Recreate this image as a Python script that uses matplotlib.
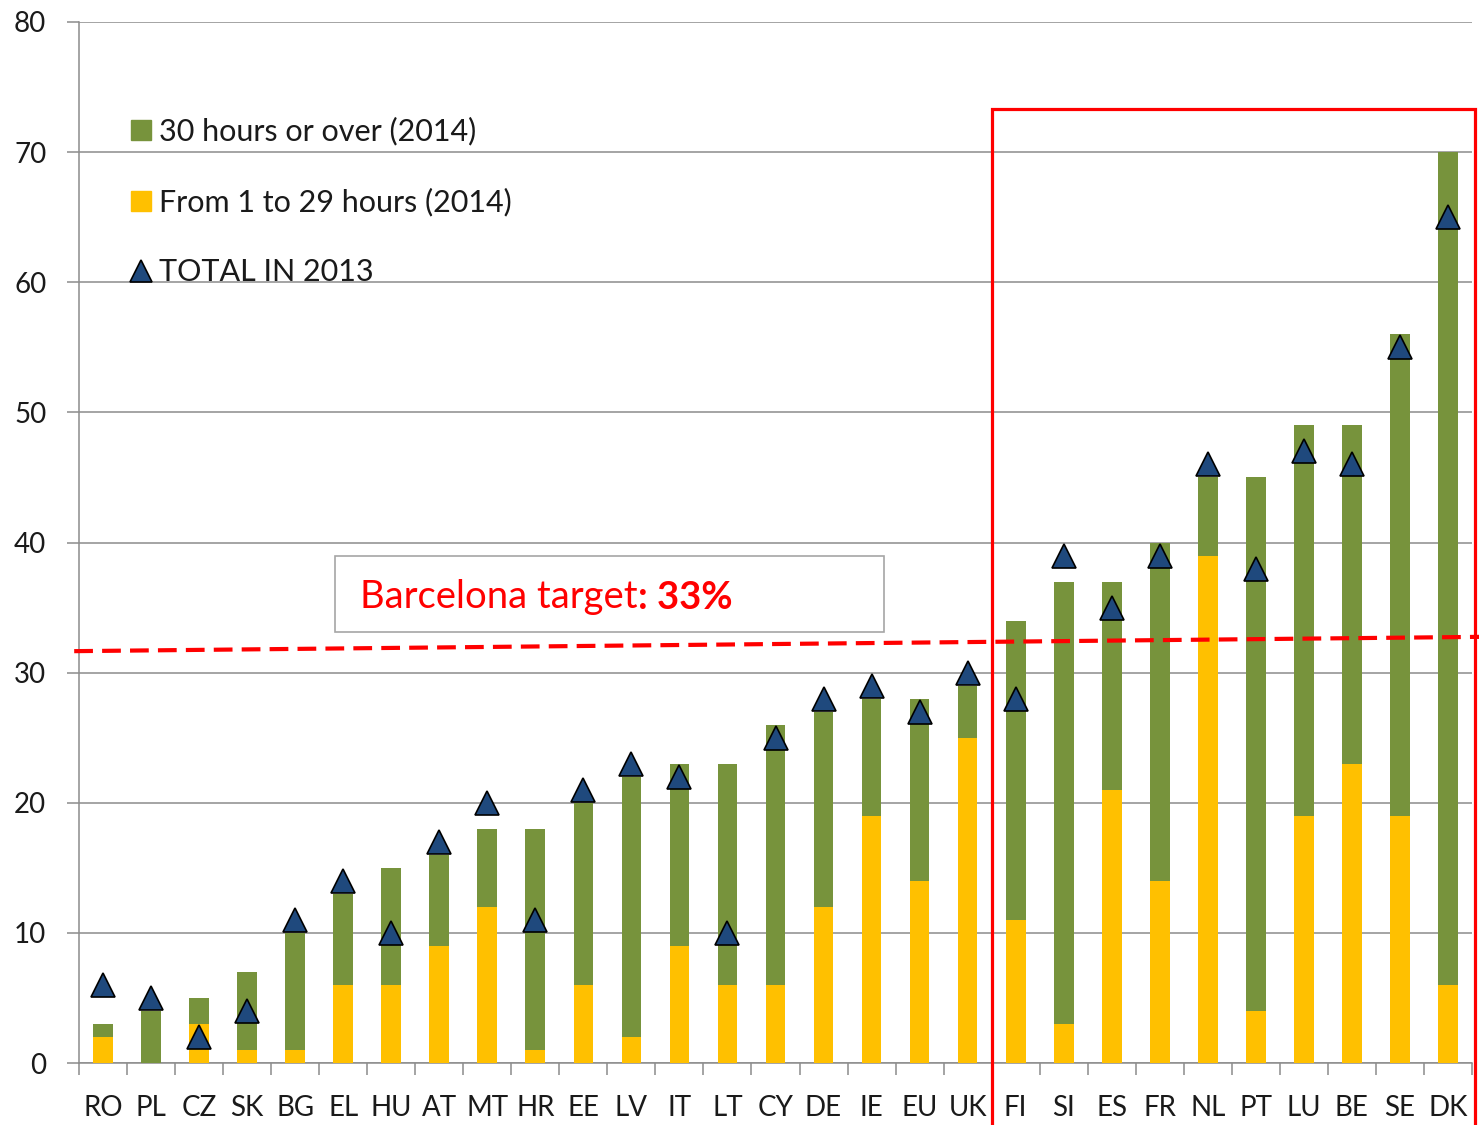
import matplotlib
matplotlib.use('Agg')
import matplotlib.pyplot as plt
from matplotlib.lines import Line2D
from matplotlib.patches import Rectangle
import numpy as np

plt.rcParams['font.family'] = ['Lato', 'DejaVu Sans']

countries = ['RO', 'PL', 'CZ', 'SK', 'BG', 'EL', 'HU', 'AT', 'MT', 'HR', 'EE', 'LV',
             'IT', 'LT', 'CY', 'DE', 'IE', 'EU', 'UK', 'FI', 'SI', 'ES', 'FR', 'NL',
             'PT', 'LU', 'BE', 'SE', 'DK']
part_time_2014 = [2, 0, 3, 1, 1, 6, 6, 9, 12, 1, 6, 2, 9, 6, 6, 12, 19, 14, 25,
                  11, 3, 21, 14, 39, 4, 19, 23, 19, 6]
full_time_2014 = [1, 4, 2, 6, 9, 7, 9, 7, 6, 17, 14, 20, 14, 17, 20, 15, 9, 14, 4,
                  23, 34, 16, 26, 6, 41, 30, 26, 37, 64]
total_2013 = [6, 5, 2, 4, 11, 14, 10, 17, 20, 11, 21, 23, 22, 10, 25, 28, 29, 27, 30,
              28, 39, 35, 39, 46, 38, 47, 46, 55, 65]
yticks = [0, 10, 20, 30, 40, 50, 60, 70, 80]
legend_labels = ['30 hours or over (2014)', 'From 1 to 29 hours (2014)', 'TOTAL IN 2013']
target_label = 'Barcelona target'
target_value = ': 33%'

GREEN = '#77933C'
YELLOW = '#FFC000'
NAVY = '#1F497D'
GRID = '#8C8C8C'
TXT = '#1a1a1a'

fig = plt.figure(figsize=(14.79, 11.25), dpi=100)
ax = fig.add_axes([79 / 1479, 1 - 1063 / 1125, (1472 - 79) / 1479, (1063 - 22) / 1125])

x = np.arange(len(countries))
w = 0.41
ax.bar(x, part_time_2014, width=w, color=YELLOW, zorder=3)
ax.bar(x, full_time_2014, width=w, bottom=part_time_2014, color=GREEN, zorder=3)
ax.plot(x, total_2013, ls='none', marker='^', markersize=17, markerfacecolor=NAVY,
        markeredgecolor='black', markeredgewidth=1.2, zorder=5, clip_on=False)

ax.set_xlim(-0.5, len(countries) - 0.5)
ax.set_ylim(0, 80)
ax.set_yticks(yticks)
ax.set_yticklabels([str(v) for v in yticks])
ax.yaxis.grid(True, color=GRID, lw=1.1, zorder=0)
ax.set_axisbelow(True)
for s in ['top', 'right']:
    ax.spines[s].set_visible(False)
for s in ['left', 'bottom']:
    ax.spines[s].set_color(GRID)
    ax.spines[s].set_linewidth(1.1)
ax.tick_params(axis='y', length=8.5, width=1.1, color=GRID, pad=15, labelsize=20,
               labelcolor=TXT)
ax.set_xticks(x)
ax.set_xticklabels(countries)
ax.set_xticks(np.arange(-0.5, len(countries), 1), minor=True)
ax.tick_params(axis='x', which='major', length=0, pad=23, labelsize=20, labelcolor=TXT)
ax.tick_params(axis='x', which='minor', length=8.5, width=1.1, color=GRID)

# Barcelona target dashed line
ax.plot([-0.6, 28.7], [31.65, 32.75], color='#FF0000', lw=3, ls=(0, (4.5, 2.2)), zorder=6,
        clip_on=False)

# Target text box
ax.add_patch(Rectangle((4.83, 33.1), 11.43, 5.85, facecolor='white', edgecolor='#A6A6A6',
                       lw=1.2, zorder=7))
t1 = ax.text(5.35, 35.0, target_label, color='#FF0000', fontsize=27.5, zorder=8,
             va='baseline')
ax.annotate(target_value, xy=(1, 0), xycoords=t1, va='bottom', ha='left',
            color='#FF0000', fontsize=27.5, fontweight='bold', zorder=8)

# Red highlight box
ax.add_patch(Rectangle((18.5, -6), 10.07, 79.3, facecolor='none', edgecolor='#FF0000',
                       lw=2.3, zorder=9, clip_on=False))

handles = [
    Line2D([], [], ls='none', marker='s', markersize=14.5, markerfacecolor=GREEN,
           markeredgecolor=GREEN),
    Line2D([], [], ls='none', marker='s', markersize=14.5, markerfacecolor=YELLOW,
           markeredgecolor=YELLOW),
    Line2D([], [], ls='none', marker='^', markersize=16, markerfacecolor=NAVY,
           markeredgecolor='black', markeredgewidth=1.2),
]
leg = ax.legend(handles, legend_labels, loc='upper left', bbox_to_anchor=(0.0332, 0.909),
                frameon=False, fontsize=22, handlelength=1.0, handletextpad=0.09,
                labelspacing=1.38, borderpad=0, borderaxespad=0)
for t in leg.get_texts():
    t.set_color(TXT)

fig.savefig('out.png', dpi=100)
